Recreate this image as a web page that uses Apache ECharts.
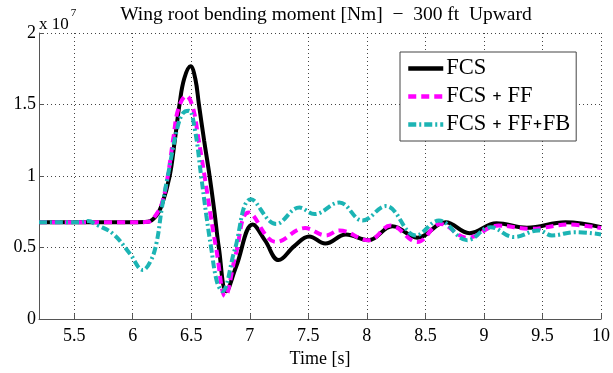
<!DOCTYPE html>
<html>
<head>
<meta charset="utf-8">
<script src="https://cdn.jsdelivr.net/npm/echarts@6/dist/echarts.min.js"></script>
<style>html,body{margin:0;padding:0;background:#fff}#c{width:613px;height:373px}</style>
</head>
<body>
<div id="c"></div>
<script>
// values in units of 10^7 Nm
var seriesNames = ['FCS', 'FCS + FF', 'FCS + FF+FB'];
var fcsT = [5.2, 6.0, 6.13, 6.2, 6.25, 6.316, 6.36, 6.40, 6.44, 6.495, 6.535, 6.566, 6.61, 6.657, 6.70, 6.736, 6.80, 6.884, 7.026, 7.13, 7.247, 7.38, 7.508, 7.645, 7.821, 8.014, 8.218, 8.431, 8.673, 8.877, 9.107, 9.368, 9.695, 10.0];
var fcsV = [0.677, 0.677, 0.68, 0.72, 0.80, 1.0, 1.25, 1.5, 1.68, 1.767, 1.68, 1.5, 1.25, 1.0, 0.74, 0.5, 0.195, 0.367, 0.661, 0.55, 0.413, 0.51, 0.578, 0.528, 0.592, 0.551, 0.649, 0.569, 0.677, 0.601, 0.670, 0.638, 0.677, 0.643];
var ffT = [5.2, 6.0, 6.13, 6.2, 6.25, 6.30, 6.35, 6.39, 6.458, 6.514, 6.56, 6.614, 6.665, 6.716, 6.79, 6.88, 6.991, 7.225, 7.472, 7.651, 7.765, 8.016, 8.204, 8.431, 8.63, 8.857, 9.127, 9.397, 9.723, 10.0];
var ffV = [0.677, 0.677, 0.68, 0.73, 0.81, 1.0, 1.28, 1.47, 1.561, 1.48, 1.27, 1.0, 0.73, 0.48, 0.16, 0.45, 0.746, 0.539, 0.636, 0.585, 0.62, 0.551, 0.654, 0.539, 0.665, 0.569, 0.654, 0.631, 0.661, 0.636];
var fbT = [5.2, 5.55, 5.62, 5.69, 5.833, 5.975, 6.088, 6.15, 6.203, 6.25, 6.30, 6.38, 6.43, 6.48, 6.53, 6.585, 6.63, 6.67, 6.72, 6.765, 6.87, 7.012, 7.225, 7.424, 7.552, 7.765, 7.963, 8.162, 8.418, 8.616, 8.857, 9.056, 9.255, 9.468, 9.581, 9.78, 10.0];
var fbV = [0.677, 0.677, 0.685, 0.66, 0.596, 0.459, 0.344, 0.40, 0.53, 0.78, 1.0, 1.33, 1.44, 1.457, 1.33, 1.0, 0.72, 0.5, 0.26, 0.195, 0.48, 0.838, 0.665, 0.78, 0.734, 0.815, 0.689, 0.79, 0.585, 0.689, 0.551, 0.642, 0.574, 0.62, 0.585, 0.608, 0.592];
var yTickLabels = ['0', '0.5', '1', '1.5', '2'];
var titleText = 'Wing root bending moment [Nm]  \u2212  300 ft  Upward';

function pairs(t, v) { return t.map(function (x, i) { return [x, v[i]]; }); }
var FONT = 'Liberation Serif';
var chart = echarts.init(document.getElementById('c'), null, {renderer: 'canvas'});
chart.setOption({
  animation: false,
  backgroundColor: '#fff',
  title: {
    text: titleText, left: 321, top: 0, textAlign: 'center',
    textStyle: {fontFamily: FONT, fontSize: 19.5, fontWeight: 'normal', color: '#000'}
  },
  grid: {left: 39, right: 10, top: 33, bottom: 50, containLabel: false},
  graphic: [{
    type: 'text', left: 39, top: 8,
    style: {
      text: '{a|x 10}{s|7}', fontFamily: FONT,
      rich: {
        a: {fontFamily: FONT, fontSize: 17, fill: '#000', padding: [8, 0, 0, 0]},
        s: {fontFamily: FONT, fontSize: 11, fill: '#000', verticalAlign: 'top', padding: [0, 0, 12, 2]}
      }
    }
  }],
  legend: {
    orient: 'vertical', left: 400, top: 52,
    padding: [5, 6, 5, 6], itemGap: 5, itemWidth: 35, itemHeight: 14,
    backgroundColor: '#fff', borderColor: '#444', borderWidth: 1,
    itemStyle: {opacity: 0},
    lineStyle: {width: 4.5},
    data: seriesNames,
    formatter: function (n) {
      if (n === 'FCS') return '{a|FCS}';
      if (n === 'FCS + FF') return '{a|FCS }{p|+}{a| FF}';
      return '{a|FCS }{p|+}{a| FF}{p|+}{a|FB}';
    },
    textStyle: {
      fontFamily: FONT, fontSize: 22, color: '#000', padding: [0, 0, 0, -2],
      rich: {
        a: {fontFamily: FONT, fontSize: 22.5, color: '#000', lineHeight: 22},
        p: {fontFamily: 'DejaVu Sans', fontSize: 12, fontWeight: 'bold', color: '#000', lineHeight: 22}
      }
    }
  },
  xAxis: {
    type: 'value', min: 5.2, max: 10, splitNumber: 10,
    name: 'Time [s]', nameLocation: 'middle', nameGap: 25,
    nameTextStyle: {fontFamily: FONT, fontSize: 18, color: '#000'},
    axisLine: {lineStyle: {color: '#555', width: 1}},
    axisTick: {inside: true, length: 5, lineStyle: {color: '#555'}},
    axisLabel: {showMinLabel: false, fontFamily: FONT, fontSize: 18, color: '#000', margin: 8},
    splitLine: {show: true, lineStyle: {color: '#444', type: [1, 3], width: 1}}
  },
  yAxis: {
    type: 'value', min: 0, max: 2, interval: 0.5,
    axisLine: {show: true, lineStyle: {color: '#555', width: 1}},
    axisTick: {show: true, inside: true, length: 5, lineStyle: {color: '#555'}},
    axisLabel: {
      fontFamily: FONT, fontSize: 18, color: '#000', margin: 3,
      formatter: function (v) { return yTickLabels[Math.round(v / 0.5)]; }
    },
    splitLine: {show: true, lineStyle: {color: '#444', type: [1, 3], width: 1}}
  },
  series: [
    {name: seriesNames[0], type: 'line', data: pairs(fcsT, fcsV), symbol: 'none', smooth: 0.4,
     lineStyle: {color: '#000', width: 4}, itemStyle: {color: '#000'}, z: 3},
    {name: seriesNames[1], type: 'line', data: pairs(ffT, ffV), symbol: 'none', smooth: 0.4,
     lineStyle: {color: '#ff00ff', width: 4, type: [8, 5]}, itemStyle: {color: '#ff00ff'}, z: 4},
    {name: seriesNames[2], type: 'line', data: pairs(fbT, fbV), symbol: 'none', smooth: 0.4,
     lineStyle: {color: '#1cb4b4', width: 4, type: [8, 3, 2, 3]}, itemStyle: {color: '#1cb4b4'}, z: 5}
  ]
});
</script>
</body>
</html>
